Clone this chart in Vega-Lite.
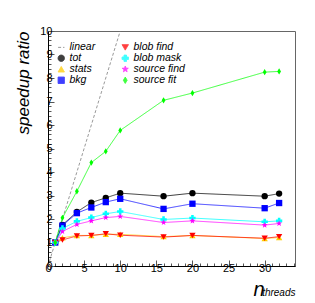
{
  "$schema": "https://vega.github.io/schema/vega-lite/v6.json",
  "autosize": "none",
  "width": 247,
  "height": 235,
  "padding": {"left": 48, "top": 31, "right": 20, "bottom": 37},
  "background": "white",
  "config": {
    "view": {"stroke": "#666", "strokeWidth": 1},
    "font": "Liberation Sans"
  },
  "data": {
    "values": [
      {"series": "linear", "n": 0, "r": 0},
      {"series": "linear", "n": 10, "r": 10},
      {"series": "tot", "n": 1, "r": 1}, {"series": "tot", "n": 2, "r": 1.75}, {"series": "tot", "n": 4, "r": 2.3}, {"series": "tot", "n": 6, "r": 2.7}, {"series": "tot", "n": 8, "r": 2.9}, {"series": "tot", "n": 10, "r": 3.1}, {"series": "tot", "n": 16, "r": 2.97}, {"series": "tot", "n": 20, "r": 3.1}, {"series": "tot", "n": 30, "r": 2.97}, {"series": "tot", "n": 32, "r": 3.08},
      {"series": "stats", "n": 1, "r": 1}, {"series": "stats", "n": 2, "r": 1.2}, {"series": "stats", "n": 4, "r": 1.3}, {"series": "stats", "n": 6, "r": 1.3}, {"series": "stats", "n": 8, "r": 1.35}, {"series": "stats", "n": 10, "r": 1.35}, {"series": "stats", "n": 16, "r": 1.25}, {"series": "stats", "n": 20, "r": 1.3}, {"series": "stats", "n": 30, "r": 1.17}, {"series": "stats", "n": 32, "r": 1.21},
      {"series": "bkg", "n": 1, "r": 1}, {"series": "bkg", "n": 2, "r": 1.72}, {"series": "bkg", "n": 4, "r": 2.25}, {"series": "bkg", "n": 6, "r": 2.49}, {"series": "bkg", "n": 8, "r": 2.72}, {"series": "bkg", "n": 10, "r": 2.86}, {"series": "bkg", "n": 16, "r": 2.43}, {"series": "bkg", "n": 20, "r": 2.65}, {"series": "bkg", "n": 30, "r": 2.46}, {"series": "bkg", "n": 32, "r": 2.68},
      {"series": "blob find", "n": 1, "r": 1}, {"series": "blob find", "n": 2, "r": 1.11}, {"series": "blob find", "n": 4, "r": 1.28}, {"series": "blob find", "n": 6, "r": 1.3}, {"series": "blob find", "n": 8, "r": 1.37}, {"series": "blob find", "n": 10, "r": 1.31}, {"series": "blob find", "n": 16, "r": 1.23}, {"series": "blob find", "n": 20, "r": 1.3}, {"series": "blob find", "n": 30, "r": 1.18}, {"series": "blob find", "n": 32, "r": 1.25},
      {"series": "blob mask", "n": 1, "r": 1}, {"series": "blob mask", "n": 2, "r": 1.6}, {"series": "blob mask", "n": 4, "r": 1.9}, {"series": "blob mask", "n": 6, "r": 2.06}, {"series": "blob mask", "n": 8, "r": 2.22}, {"series": "blob mask", "n": 10, "r": 2.32}, {"series": "blob mask", "n": 16, "r": 1.98}, {"series": "blob mask", "n": 20, "r": 2.04}, {"series": "blob mask", "n": 30, "r": 1.88}, {"series": "blob mask", "n": 32, "r": 1.92},
      {"series": "source find", "n": 1, "r": 1}, {"series": "source find", "n": 2, "r": 1.47}, {"series": "source find", "n": 4, "r": 1.77}, {"series": "source find", "n": 6, "r": 1.92}, {"series": "source find", "n": 8, "r": 2.06}, {"series": "source find", "n": 10, "r": 2.11}, {"series": "source find", "n": 16, "r": 1.85}, {"series": "source find", "n": 20, "r": 1.92}, {"series": "source find", "n": 30, "r": 1.74}, {"series": "source find", "n": 32, "r": 1.81},
      {"series": "source fit", "n": 1, "r": 1}, {"series": "source fit", "n": 2, "r": 2.05}, {"series": "source fit", "n": 4, "r": 3.18}, {"series": "source fit", "n": 6, "r": 4.4}, {"series": "source fit", "n": 8, "r": 4.88}, {"series": "source fit", "n": 10, "r": 5.77}, {"series": "source fit", "n": 16, "r": 7.05}, {"series": "source fit", "n": 20, "r": 7.36}, {"series": "source fit", "n": 30, "r": 8.25}, {"series": "source fit", "n": 32, "r": 8.28}
    ]
  },
  "encoding": {
    "y": {
      "field": "r", "type": "quantitative",
      "scale": {"domain": [0, 10], "nice": false, "zero": false},
      "axis": {
        "title": "speedup ratio",
        "titleFont": "Liberation Sans", "titleFontSize": 17, "titleFontStyle": "italic", "titleFontWeight": "normal", "titleColor": "black",
        "titleAnchor": "end", "titleAlign": "right", "titlePadding": 7,
        "values": [0,0.2,0.4,0.6,0.8,1,1.2,1.4,1.6,1.8,2,2.2,2.4,2.6,2.8,3,3.2,3.4,3.6,3.8,4,4.2,4.4,4.6,4.8,5,5.2,5.4,5.6,5.8,6,6.2,6.4,6.6,6.8,7,7.2,7.4,7.6,7.8,8,8.2,8.4,8.6,8.8,9,9.2,9.4,9.6,9.8,10],
        "labelExpr": "abs(datum.value - round(datum.value)) < 0.001 ? format(datum.value, 'd') : ''",
        "labelOverlap": false, "labelFlush": false, "labelBound": false,
        "labelFont": "Liberation Sans", "labelFontSize": 11, "labelColor": "black", "labelPadding": 2,
        "tickSize": {"condition": {"test": "abs(datum.value - round(datum.value)) < 0.001", "value": -6}, "value": -3},
        "tickColor": "#555", "domainColor": "black", "grid": false
      }
    }
  },
  "layer": [
    {
      "mark": {"type": "line", "strokeWidth": 1, "opacity": 0.75, "clip": true},
      "encoding": {
        "x": {
          "field": "n", "type": "quantitative",
          "scale": {"domain": [0, 34.2], "nice": false, "zero": false},
          "axis": {
            "title": "n",
            "titleFont": "Liberation Sans", "titleFontSize": 20, "titleFontStyle": "italic", "titleFontWeight": "normal", "titleColor": "black",
            "titleX": 216, "titleY": 29, "titleAlign": "right", "titleBaseline": "alphabetic",
            "values": [0,1,2,3,4,5,6,7,8,9,10,11,12,13,14,15,16,17,18,19,20,21,22,23,24,25,26,27,28,29,30,31,32,33,34],
            "labelExpr": "datum.value % 5 === 0 ? datum.label : ''",
            "labelOverlap": false, "labelFlush": false, "labelBound": false,
            "labelFont": "Liberation Sans", "labelFontSize": 11, "labelColor": "black", "labelPadding": 2,
            "tickSize": {"condition": {"test": "datum.value % 5 === 0", "value": -6}, "value": -3},
            "tickColor": "#555", "domainColor": "black", "grid": false
          }
        },
        "color": {
          "field": "series", "type": "nominal",
          "scale": {
            "domain": ["linear", "tot", "stats", "bkg", "blob find", "blob mask", "source find", "source fit"],
            "range": ["#777777", "#000000", "#ffcc00", "#0000ff", "#ff0000", "#00ffff", "#ff00ff", "#00ff00"]
          },
          "legend": {
            "title": null, "orient": "none", "legendX": 8, "legendY": 11, "columns": 2,
            "columnPadding": 24, "rowPadding": 0, "labelFontSize": 10.5, "labelFontStyle": "italic", "labelColor": "black",
            "symbolSize": 40, "symbolStrokeWidth": 1, "labelOffset": 3,
            "encode": {"symbols": {"update": {"stroke": {"scale": "color", "field": "value"}}}}
          }
        },
        "strokeDash": {
          "field": "series", "type": "nominal",
          "scale": {
            "domain": ["linear", "tot", "stats", "bkg", "blob find", "blob mask", "source find", "source fit"],
            "range": [[3, 2], [1, 0], [1, 0], [1, 0], [1, 0], [1, 0], [1, 0], [1, 0]]
          },
          "legend": {"title": null}
        }
      }
    },
    {
      "transform": [{"filter": "datum.series !== 'linear'"}],
      "mark": {"type": "point", "filled": true, "size": 40, "opacity": 1},
      "encoding": {
        "x": {
          "field": "n", "type": "quantitative",
          "scale": {"domain": [0, 34.2], "nice": false, "zero": false},
          "axis": {
            "orient": "top", "labels": false, "ticks": false, "domain": false, "grid": false,
            "title": "threads",
            "titleFont": "Liberation Sans", "titleFontSize": 10, "titleFontStyle": "italic", "titleFontWeight": "normal", "titleColor": "black",
            "titleX": 247, "titleY": 264, "titleAlign": "right", "titleBaseline": "alphabetic"
          }
        },
        "color": {"field": "series", "type": "nominal", "legend": {"title": null}},
        "shape": {
          "field": "series", "type": "nominal",
          "scale": {
            "domain": ["linear", "tot", "stats", "bkg", "blob find", "blob mask", "source find", "source fit"],
            "range": ["stroke", "circle", "triangle-up", "square", "triangle-down", "cross", "M0,-1L0.235,-0.324L0.951,-0.309L0.38,0.124L0.588,0.809L0,0.4L-0.588,0.809L-0.38,0.124L-0.951,-0.309L-0.235,-0.324Z", "M0,-1L0.6,0L0,1L-0.6,0Z"]
          },
          "legend": {"title": null}
        }
      }
    }
  ],
  "resolve": {"axis": {"x": "independent"}}
}
